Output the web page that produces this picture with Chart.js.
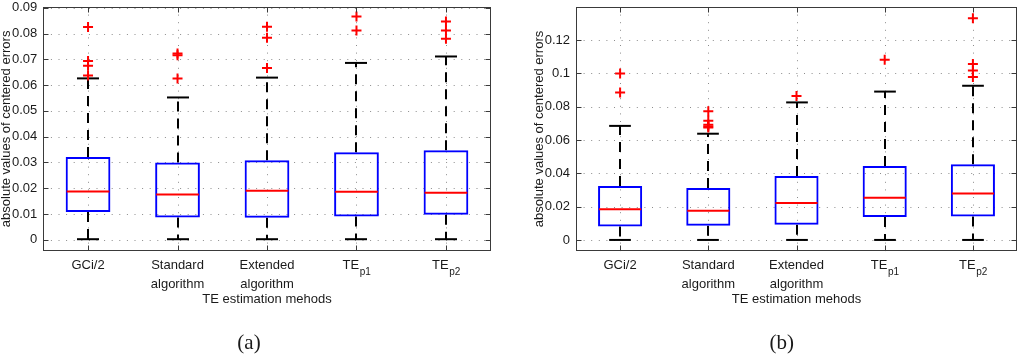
<!DOCTYPE html>
<html>
<head>
<meta charset="utf-8">
<script src="https://cdn.jsdelivr.net/npm/chart.js@4.4.1/dist/chart.umd.min.js"></script>
<style>
  html, body { margin: 0; padding: 0; background: #fff; }
  #wrap { position: relative; width: 1024px; height: 354px; overflow: hidden; }
  canvas { position: absolute; top: 0; }
</style>
</head>
<body>
<div id="wrap">
  <canvas id="chart-a" width="512" height="354" style="left:0"></canvas>
  <canvas id="chart-b" width="512" height="354" style="left:512px"></canvas>
</div>
<script>
const categories = ['GCi/2', 'Standard\nalgorithm', 'Extended\nalgorithm', 'TE_p1', 'TE_p2'];
const yTitle = 'absolute values of centered errors';
const xTitle = 'TE estimation mehods';

// panel (a)
const yTicksA = [0, 0.01, 0.02, 0.03, 0.04, 0.05, 0.06, 0.07, 0.08, 0.09];
const lowA = [0.0002, 0.0002, 0.0002, 0.0002, 0.0002];
const q1A = [0.0108, 0.0086, 0.0085, 0.0090, 0.0097];
const medA = [0.0187, 0.0175, 0.0190, 0.0186, 0.0182];
const q3A = [0.0321, 0.0300, 0.0308, 0.0339, 0.0347];
const highA = [0.0626, 0.0552, 0.0629, 0.0686, 0.0711];
const outA = [[0.0825, 0.0693, 0.0675, 0.0637], [0.0723, 0.0716, 0.0626], [0.0826, 0.0784, 0.0666], [0.0866, 0.0812], [0.0847, 0.0812, 0.0780]];

// panel (b)
const yTicksB = [0, 0.02, 0.04, 0.06, 0.08, 0.1, 0.12];
const lowB = [0, 0, 0, 0, 0];
const q1B = [0.0081, 0.0085, 0.0091, 0.0138, 0.0141];
const medB = [0.0185, 0.0175, 0.0222, 0.0253, 0.0279];
const q3B = [0.0324, 0.0312, 0.0384, 0.0444, 0.0455];
const highB = [0.0685, 0.0638, 0.0826, 0.0891, 0.0926];
const outB = [[0.1000, 0.0885], [0.0773, 0.0716, 0.0692, 0.0682, 0.0676], [0.0865], [0.1082], [0.1332, 0.1057, 0.1018, 0.0979]];

const FONT = '"Liberation Sans", Arial, Helvetica, sans-serif';
const INK = '#1a1a1a';

function seg(ctx, x1, y1, x2, y2) {
  ctx.beginPath(); ctx.moveTo(x1, y1); ctx.lineTo(x2, y2); ctx.stroke();
}

function drawCatLabel(ctx, text, cx) {
  text.split('\n').forEach((ln, k) => {
    const by = 269 + k * 19;
    const parts = ln.split('_');
    ctx.font = '13px ' + FONT;
    if (parts.length === 1) {
      ctx.textAlign = 'center';
      ctx.fillText(ln, cx, by);
    } else {
      const w1 = ctx.measureText(parts[0]).width;
      ctx.font = '10px ' + FONT;
      const w2 = ctx.measureText(parts[1]).width;
      const x0 = cx - (w1 + w2) / 2;
      ctx.textAlign = 'left';
      ctx.fillText(parts[1], x0 + w1 + 0.5, by + 6);
      ctx.font = '13px ' + FONT;
      ctx.fillText(parts[0], x0, by);
    }
  });
}

function boxPlugin(s) {
  return {
    id: 'boxExtras',
    beforeDatasetsDraw(chart) {
      const { ctx, chartArea: a, scales: { x, y } } = chart;
      ctx.save();
      // dotted grid
      ctx.strokeStyle = '#8c8c8c';
      ctx.lineWidth = 1;
      ctx.setLineDash([1, 6.6]);
      y.ticks.forEach(t => {
        const py = Math.round(y.getPixelForValue(t.value)) + 0.5;
        seg(ctx, a.left, py, a.right, py);
      });
      categories.forEach((c, i) => {
        const px = Math.round(x.getPixelForValue(i)) + 0.5;
        seg(ctx, px, a.top, px, a.bottom);
      });
      // whiskers
      const step = x.getPixelForValue(1) - x.getPixelForValue(0);
      ctx.strokeStyle = '#000';
      ctx.lineWidth = 2;
      categories.forEach((c, i) => {
        const px = Math.round(x.getPixelForValue(i));
        ctx.setLineDash([10, 7]);
        seg(ctx, px, y.getPixelForValue(s.q3[i]), px, y.getPixelForValue(s.high[i]));
        seg(ctx, px, y.getPixelForValue(s.q1[i]), px, y.getPixelForValue(s.low[i]));
        ctx.setLineDash([]);
        const hc = step * 0.123;
        const yh = y.getPixelForValue(s.high[i]);
        const yl = y.getPixelForValue(s.low[i]);
        seg(ctx, px - hc, yh, px + hc, yh);
        seg(ctx, px - hc, yl, px + hc, yl);
      });
      ctx.restore();
    },
    afterDatasetsDraw(chart) {
      const { ctx, chartArea: a, scales: { x, y } } = chart;
      const step = x.getPixelForValue(1) - x.getPixelForValue(0);
      ctx.save();
      // medians
      ctx.strokeStyle = '#ff0000';
      ctx.lineWidth = 2;
      categories.forEach((c, i) => {
        const px = x.getPixelForValue(i);
        const py = y.getPixelForValue(s.med[i]);
        seg(ctx, px - step * 0.25 + 1, py, px + step * 0.25 - 1, py);
      });
      // frame and inward ticks
      ctx.strokeStyle = '#3a3a3a';
      ctx.lineWidth = 1;
      const L = Math.round(a.left) + 0.5, R = Math.round(a.right) - 0.5;
      const T = Math.round(a.top) + 0.5, B = Math.round(a.bottom) - 0.5;
      ctx.strokeRect(L, T, R - L, B - T);
      y.ticks.forEach(t => {
        const py = Math.round(y.getPixelForValue(t.value)) + 0.5;
        seg(ctx, L, py, L + 5, py);
        seg(ctx, R, py, R - 5, py);
      });
      categories.forEach((c, i) => {
        const px = Math.round(x.getPixelForValue(i)) + 0.5;
        seg(ctx, px, T, px, T + 5);
        seg(ctx, px, B, px, B - 5);
      });
      // texts
      ctx.fillStyle = INK;
      ctx.textBaseline = 'alphabetic';
      categories.forEach((c, i) => drawCatLabel(ctx, c, x.getPixelForValue(i)));
      ctx.font = '13px ' + FONT;
      ctx.textAlign = 'center';
      ctx.fillText(xTitle, (a.left + a.right) / 2, 302.5);
      ctx.save();
      ctx.translate(a.left - 37, (a.top + a.bottom) / 2);
      ctx.rotate(-Math.PI / 2);
      ctx.textBaseline = 'middle';
      ctx.fillText(yTitle, 0, 0);
      ctx.restore();
      ctx.font = '21px "Liberation Serif", "Times New Roman", serif';
      ctx.textBaseline = 'middle';
      ctx.fillText(s.tag, s.tagX, 343);
      ctx.restore();
    }
  };
}

function makeBoxChart(id, s) {
  const outlierPts = [];
  s.outliers.forEach((vals, i) => vals.forEach(v => outlierPts.push({ x: categories[i], y: v })));
  const ctx = document.getElementById(id).getContext('2d');
  new Chart(ctx, {
    data: {
      labels: categories,
      datasets: [{
        type: 'bar',
        data: s.q1.map((v, i) => [v, s.q3[i]]),
        backgroundColor: 'rgba(0,0,0,0)',
        borderColor: '#0000ff',
        borderWidth: 2,
        borderSkipped: false,
        barPercentage: 0.5,
        categoryPercentage: 1.0
      }, {
        type: 'line',
        data: outlierPts,
        showLine: false,
        pointStyle: 'cross',
        pointRadius: 5,
        borderColor: '#ff0000',
        backgroundColor: '#ff0000',
        borderWidth: 2
      }]
    },
    options: {
      responsive: false,
      animation: false,
      devicePixelRatio: 1,
      layout: { padding: { top: s.top, right: 512 - s.right, bottom: 0, left: 0 } },
      plugins: { legend: { display: false }, tooltip: { enabled: false } },
      scales: {
        x: {
          type: 'category',
          offset: true,
          grid: { display: false, drawTicks: false },
          border: { display: false },
          ticks: { display: false },
          afterFit: sc => { sc.height = 354 - s.bottom; sc.paddingLeft = 0; sc.paddingRight = 0; }
        },
        y: {
          type: 'linear',
          min: s.yMin,
          max: s.yMax,
          bounds: 'data',
          grid: { display: false, drawTicks: false },
          border: { display: false },
          ticks: {
            color: INK,
            padding: 6,
            font: { family: FONT, size: 13 },
            callback: v => String(Number(v.toFixed(3)))
          },
          afterBuildTicks: sc => { sc.ticks = s.ticks.map(v => ({ value: v })); },
          afterFit: sc => { sc.width = s.left; sc.paddingTop = 0; sc.paddingBottom = 0; }
        }
      }
    },
    plugins: [boxPlugin(s)]
  });
}

makeBoxChart('chart-a', {
  low: lowA, q1: q1A, med: medA, q3: q3A, high: highA, outliers: outA, ticks: yTicksA,
  yMin: -0.0043, yMax: 0.0903, left: 43.3, right: 490.7, top: 3.8, bottom: 250.8,
  tag: '(a)', tagX: 249
});
makeBoxChart('chart-b', {
  low: lowB, q1: q1B, med: medB, q3: q3B, high: highB, outliers: outB, ticks: yTicksB,
  yMin: -0.0067, yMax: 0.1399, left: 64, right: 509, top: 1.9, bottom: 251.1,
  tag: '(b)', tagX: 269.7
});
</script>
</body>
</html>
